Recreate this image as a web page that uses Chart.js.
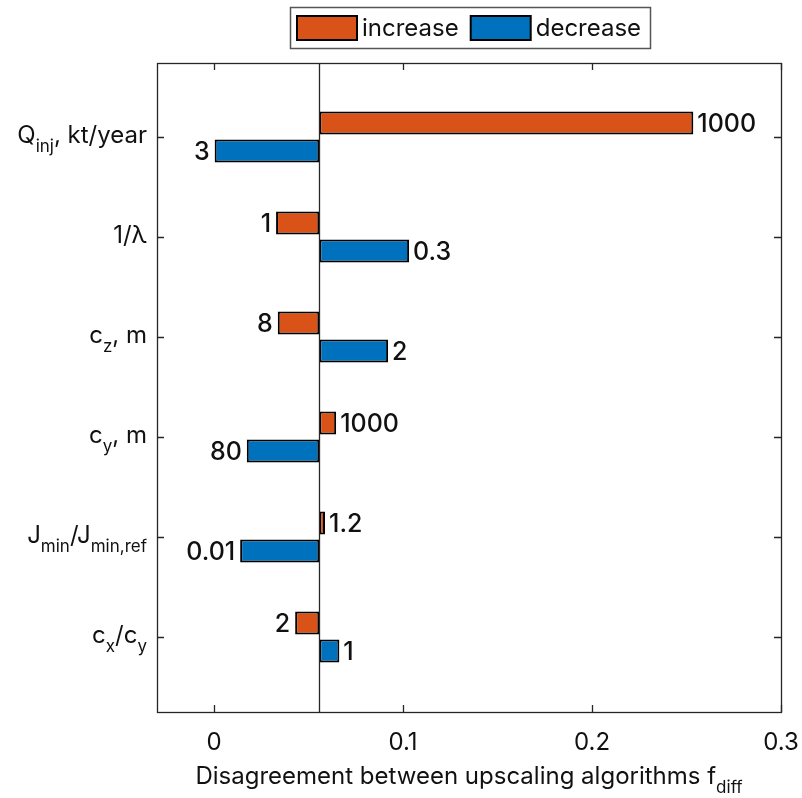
<!DOCTYPE html>
<html>
<head>
<meta charset="utf-8">
<script src="https://cdn.jsdelivr.net/npm/chart.js@4.4.1/dist/chart.umd.min.js"></script>
<style>
  html, body { margin: 0; padding: 0; background: #fff; }
  canvas { display: block; }
</style>
</head>
<body>
<canvas id="js--grafiek" width="802" height="798"></canvas>
<script>
// categories, top to bottom (_{} = subscript)
const categories = ['Q_{inj}, kt/year', '1/\u03bb', 'c_{z}, m', 'c_{y}, m', 'J_{min}/J_{min,ref}', 'c_{x}/c_{y}'];
const positions = [1, 2, 3, 4, 5, 6];

const baseline = 0.0557;
const increaseEnd = [0.2536, 0.0328, 0.0337, 0.0646, 0.0587, 0.0429];
const decreaseEnd = [0.0003, 0.1032, 0.0921, 0.0173, 0.0138, 0.0663];
const increaseLabels = ['1000', '1', '8', '1000', '1.2', '2'];
const decreaseLabels = ['3', '0.3', '2', '80', '0.01', '1'];

const xTicks = [0, 0.1, 0.2, 0.3];
const xTitle = 'Disagreement between upscaling algorithms f_{diff}';

const orange = '#D95319';
const blue = '#0072BD';
const axisColor = '#262626';
const font = 'Inter, "Open Sans", sans-serif';

function parts(str) {
  const out = [];
  const re = /_\{([^}]*)\}/g;
  let last = 0, m;
  while ((m = re.exec(str)) !== null) {
    if (m.index > last) out.push({ t: str.slice(last, m.index), sub: false });
    out.push({ t: m[1], sub: true });
    last = re.lastIndex;
  }
  if (last < str.length) out.push({ t: str.slice(last), sub: false });
  return out;
}

function drawRich(ctx, str, x, y, size, align) {
  const segs = parts(str);
  const subSize = Math.round(size * 0.72);
  let total = 0;
  segs.forEach(s => {
    ctx.font = (s.sub ? subSize : size) + 'px ' + font;
    s.w = ctx.measureText(s.t).width;
    total += s.w;
  });
  let cx = align === 'right' ? x - total : align === 'center' ? x - total / 2 : x;
  ctx.textAlign = 'left';
  ctx.textBaseline = 'alphabetic';
  segs.forEach(s => {
    ctx.font = (s.sub ? subSize : size) + 'px ' + font;
    ctx.fillText(s.t, cx, s.sub ? y + size * 0.36 : y);
    cx += s.w;
  });
}

const frame = {
  id: 'frame',
  afterDatasetsDraw(chart) {
    const ctx = chart.ctx;
    const a = chart.chartArea;
    const xs = chart.scales.x, ys = chart.scales.y;
    ctx.save();
    ctx.strokeStyle = axisColor;
    ctx.lineWidth = 1.3;
    // baseline
    const bx = Math.round(xs.getPixelForValue(baseline)) + 0.5;
    ctx.beginPath();
    ctx.moveTo(bx, a.top); ctx.lineTo(bx, a.bottom);
    ctx.stroke();
    // box
    ctx.strokeRect(a.left + 0.5, a.top + 0.5, a.right - a.left, a.bottom - a.top);
    // ticks
    ctx.beginPath();
    xTicks.forEach(v => {
      const px = Math.round(xs.getPixelForValue(v)) + 0.5;
      ctx.moveTo(px, a.bottom); ctx.lineTo(px, a.bottom - 7);
      ctx.moveTo(px, a.top); ctx.lineTo(px, a.top + 7);
    });
    positions.forEach(v => {
      const py = Math.round(ys.getPixelForValue(v)) + 0.5;
      ctx.moveTo(a.left, py); ctx.lineTo(a.left + 7, py);
      ctx.moveTo(a.right, py); ctx.lineTo(a.right - 7, py);
    });
    ctx.stroke();

    ctx.fillStyle = '#111';
    // x tick labels
    ctx.font = '24px ' + font;
    ctx.textAlign = 'center';
    ctx.textBaseline = 'alphabetic';
    xTicks.forEach(v => {
      ctx.fillText(String(v), xs.getPixelForValue(v), 750);
    });
    // x title
    drawRich(ctx, xTitle, (a.left + a.right) / 2, 784, 24, 'center');
    // y labels
    categories.forEach((c, i) => {
      drawRich(ctx, c, a.left - 10, ys.getPixelForValue(positions[i]) + 6, 24, 'right');
    });

    // value labels at bar ends
    ctx.font = '500 25px ' + font;
    ctx.textBaseline = 'middle';
    chart.data.datasets.forEach((ds, di) => {
      const meta = chart.getDatasetMeta(di);
      const ends = di === 0 ? increaseEnd : decreaseEnd;
      meta.data.forEach((bar, i) => {
        const right = ends[i] > baseline;
        const px = xs.getPixelForValue(ends[i]);
        ctx.textAlign = right ? 'left' : 'right';
        ctx.fillText(ds.valueLabels[i], px + (right ? 4 : -5), bar.y + 1);
      });
    });

    // legend
    const lx = 290, ly = 7, lw = 360, lh = 41;
    ctx.fillStyle = '#fff';
    ctx.fillRect(lx, ly, lw, lh);
    ctx.strokeStyle = '#555';
    ctx.lineWidth = 1.5;
    ctx.strokeRect(lx + 0.5, ly + 0.5, lw, lh);
    ctx.font = '24px ' + font;
    ctx.textAlign = 'left';
    ctx.textBaseline = 'middle';
    let cx = 297;
    chart.data.datasets.forEach(ds => {
      ctx.fillStyle = ds.backgroundColor;
      ctx.fillRect(cx, 16, 60, 24);
      ctx.strokeStyle = '#000';
      ctx.lineWidth = 2;
      ctx.strokeRect(cx, 16, 60, 24);
      ctx.fillStyle = '#111';
      ctx.fillText(ds.label, cx + 65, 29);
      cx += 65 + ctx.measureText(ds.label).width + 12;
    });
    ctx.restore();
  }
};

const config = {
  type: 'bar',
  data: {
    datasets: [
      {
        label: 'increase',
        data: positions.map((p, i) => ({ y: p, x: [baseline, increaseEnd[i]] })),
        valueLabels: increaseLabels,
        backgroundColor: orange
      },
      {
        label: 'decrease',
        data: positions.map((p, i) => ({ y: p, x: [baseline, decreaseEnd[i]] })),
        valueLabels: decreaseLabels,
        backgroundColor: blue
      }
    ]
  },
  options: {
    indexAxis: 'y',
    responsive: false,
    animation: false,
    layout: { padding: { left: 157, right: 21, top: 63, bottom: 86 } },
    datasets: {
      bar: {
        borderColor: '#000',
        borderWidth: 2,
        borderSkipped: false,
        categoryPercentage: 0.56,
        barPercentage: 0.82
      }
    },
    scales: {
      x: { type: 'linear', min: -0.0302, max: 0.3, display: false },
      y: {
        type: 'linear', min: 0.26, max: 6.75, reverse: true, offset: false, display: false,
        afterBuildTicks(scale) { scale.ticks = positions.map(v => ({ value: v })); }
      }
    },
    plugins: {
      legend: { display: false },
      tooltip: { enabled: false }
    }
  },
  plugins: [frame]
};

const chart1 = new Chart(document.getElementById('js--grafiek'), config);
</script>
</body>
</html>
